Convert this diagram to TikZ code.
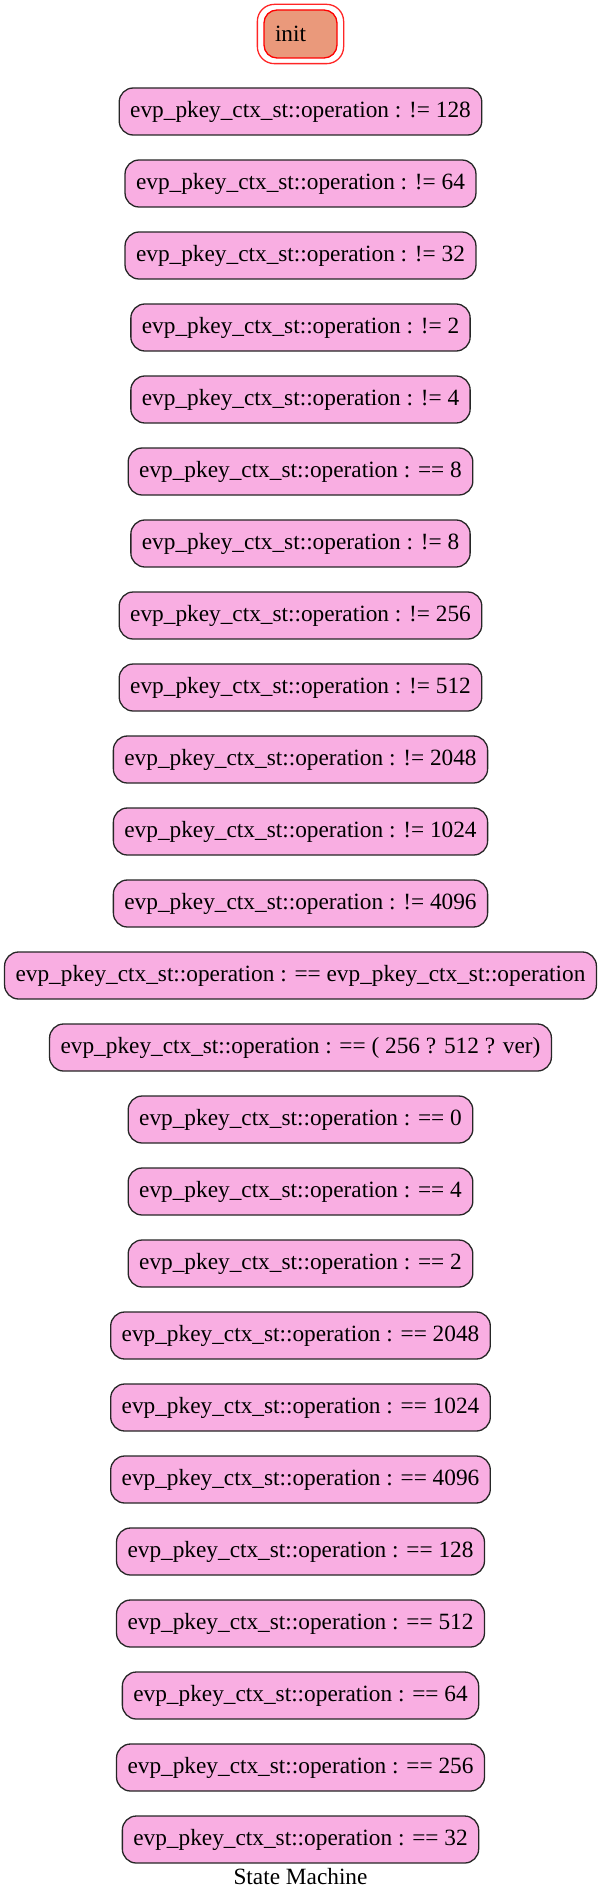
\documentclass[tikz,border=0pt]{standalone}
\usepackage{fontspec}
\setmainfont{Liberation Serif}
\definecolor{pinkfill}{HTML}{F9AEE2}
\definecolor{initfill}{HTML}{EA997B}
\definecolor{edgegray}{HTML}{262626}
\newcommand{\evpop}{evp\_pkey\_ctx\_st::operation}
\begin{document}
\begin{tikzpicture}[x=1pt,y=-1pt,
  statebox/.style={draw=edgegray, line width=1.3pt, fill=pinkfill, rounded corners=14pt,
    minimum height=47pt, inner xsep=11pt, inner ysep=0pt, font=\fontsize{23.3}{28}\selectfont},
  initbox/.style={draw=red, line width=1.3pt, fill=initfill, rounded corners=13pt,
    minimum height=48pt, minimum width=73pt, inner sep=0pt, font=\fontsize{23.3}{28}\selectfont},
  captiontext/.style={font=\fontsize{23.3}{28}\selectfont, inner sep=0pt}]
\useasboundingbox (0,0) rectangle (601,1900);
% init node with double border
\node[initbox] (init) at (300.5,34) {\makebox[73pt][l]{\hspace{11pt}init}};
\draw[red!85, line width=1.3pt, rounded corners=17pt]
  ([xshift=-6pt,yshift=-5pt]init.south west) rectangle ([xshift=6pt,yshift=5pt]init.north east);
\foreach \lab [count=\i] in {!= 128, != 64, != 32, != 2, != 4, == 8, != 8, != 256, != 512,
  != 2048, != 1024, != 4096, == \evpop, == ( 256 ? 512 ? ver), == 0, == 4, == 2,
  == 2048, == 1024, == 4096, == 128, == 512, == 64, == 256, == 32} {
  \node[statebox] (n\i) at (300.5, {111.5+(\i-1)*72}) {\evpop{} : \lab};
}
\node[captiontext] (caption) at (300.5,1877) {State Machine};
\end{tikzpicture}
\end{document}
